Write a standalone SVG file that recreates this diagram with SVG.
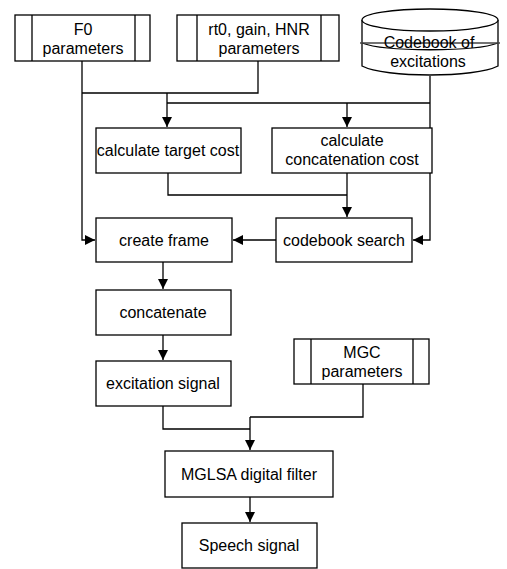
<svg xmlns="http://www.w3.org/2000/svg" width="507" height="569" viewBox="0 0 507 569">
<style>
.b{fill:#fff;stroke:#000;stroke-width:1.3}
.l{fill:none;stroke:#000;stroke-width:1.3}
.c{fill:none;stroke:#000;stroke-width:1.3}
text{font-family:"Liberation Sans",Arial,sans-serif;font-size:16px;fill:#000;text-anchor:middle}
</style>
<defs>
<marker id="a" markerUnits="userSpaceOnUse" markerWidth="11" markerHeight="11" refX="10" refY="5" orient="auto"><path d="M0,0 L10,5 L0,10 z" fill="#000"/></marker>
</defs>
<rect width="507" height="569" fill="#fff"/>
<g id="connectors">
<path class="c" d="M82,61 V240 H95" marker-end="url(#a)"/>
<path class="c" d="M82,93 H258 V61"/>
<path class="c" d="M167,93 V127" marker-end="url(#a)"/>
<path class="c" d="M167,103 H430"/>
<path class="c" d="M430,76 V240 H413" marker-end="url(#a)"/>
<path class="c" d="M347,103 V127" marker-end="url(#a)"/>
<path class="c" d="M168,173 V195 H347"/>
<path class="c" d="M347,173 V217" marker-end="url(#a)"/>
<path class="c" d="M276,240 H233" marker-end="url(#a)"/>
<path class="c" d="M163,262 V289" marker-end="url(#a)"/>
<path class="c" d="M163,335 V360" marker-end="url(#a)"/>
<path class="c" d="M163,406 V429 H250"/>
<path class="c" d="M363,384 V417 H250"/>
<path class="c" d="M250,417 V450" marker-end="url(#a)"/>
<path class="c" d="M250,497 V522" marker-end="url(#a)"/>
</g>
<g id="f0">
<rect class="b" x="15" y="15" width="135" height="46"/>
<path class="l" d="M32,15 V61 M135,15 V61"/>
<text x="83" y="35">F0</text>
<text x="83" y="54">parameters</text>
</g>
<g id="rt0">
<rect class="b" x="177" y="15" width="162" height="46"/>
<path class="l" d="M197,15 V61 M321,15 V61"/>
<text x="259" y="35">rt0, gain, HNR</text>
<text x="259" y="54">parameters</text>
</g>
<g id="codebook">
<path class="b" d="M362,20 V66 C385,78 475,78 498,66 V20"/>
<ellipse class="b" cx="430" cy="20" rx="68" ry="11"/>
<path class="l" d="M362,43 C385,52 475,52 498,43"/>
<path d="M360,43 H500" stroke="#444" stroke-width="1.5"/>
<text x="429" y="48">Codebook of</text>
<text x="428" y="67">excitations</text>
</g>
<g id="target">
<rect class="b" x="96" y="128" width="145" height="45"/>
<text x="168" y="156">calculate target cost</text>
</g>
<g id="concatcost">
<rect class="b" x="272" y="128" width="160" height="45"/>
<text x="352" y="146">calculate</text>
<text x="352" y="165">concatenation cost</text>
</g>
<g id="createframe">
<rect class="b" x="96" y="218" width="136" height="44"/>
<text x="164" y="246">create frame</text>
</g>
<g id="search">
<rect class="b" x="276" y="218" width="136" height="44"/>
<text x="344" y="246">codebook search</text>
</g>
<g id="concatenate">
<rect class="b" x="96" y="290" width="135" height="45"/>
<text x="163" y="318">concatenate</text>
</g>
<g id="excitation">
<rect class="b" x="96" y="361" width="135" height="45"/>
<text x="163" y="389">excitation signal</text>
</g>
<g id="mgc">
<rect class="b" x="294" y="339" width="135" height="45"/>
<path class="l" d="M311,339 V384 M413,339 V384"/>
<text x="362" y="358">MGC</text>
<text x="362" y="377">parameters</text>
</g>
<g id="mglsa">
<rect class="b" x="165" y="451" width="168" height="46"/>
<text x="249" y="480">MGLSA digital filter</text>
</g>
<g id="speech">
<rect class="b" x="182" y="523" width="135" height="45"/>
<text x="249" y="551">Speech signal</text>
</g>
</svg>
